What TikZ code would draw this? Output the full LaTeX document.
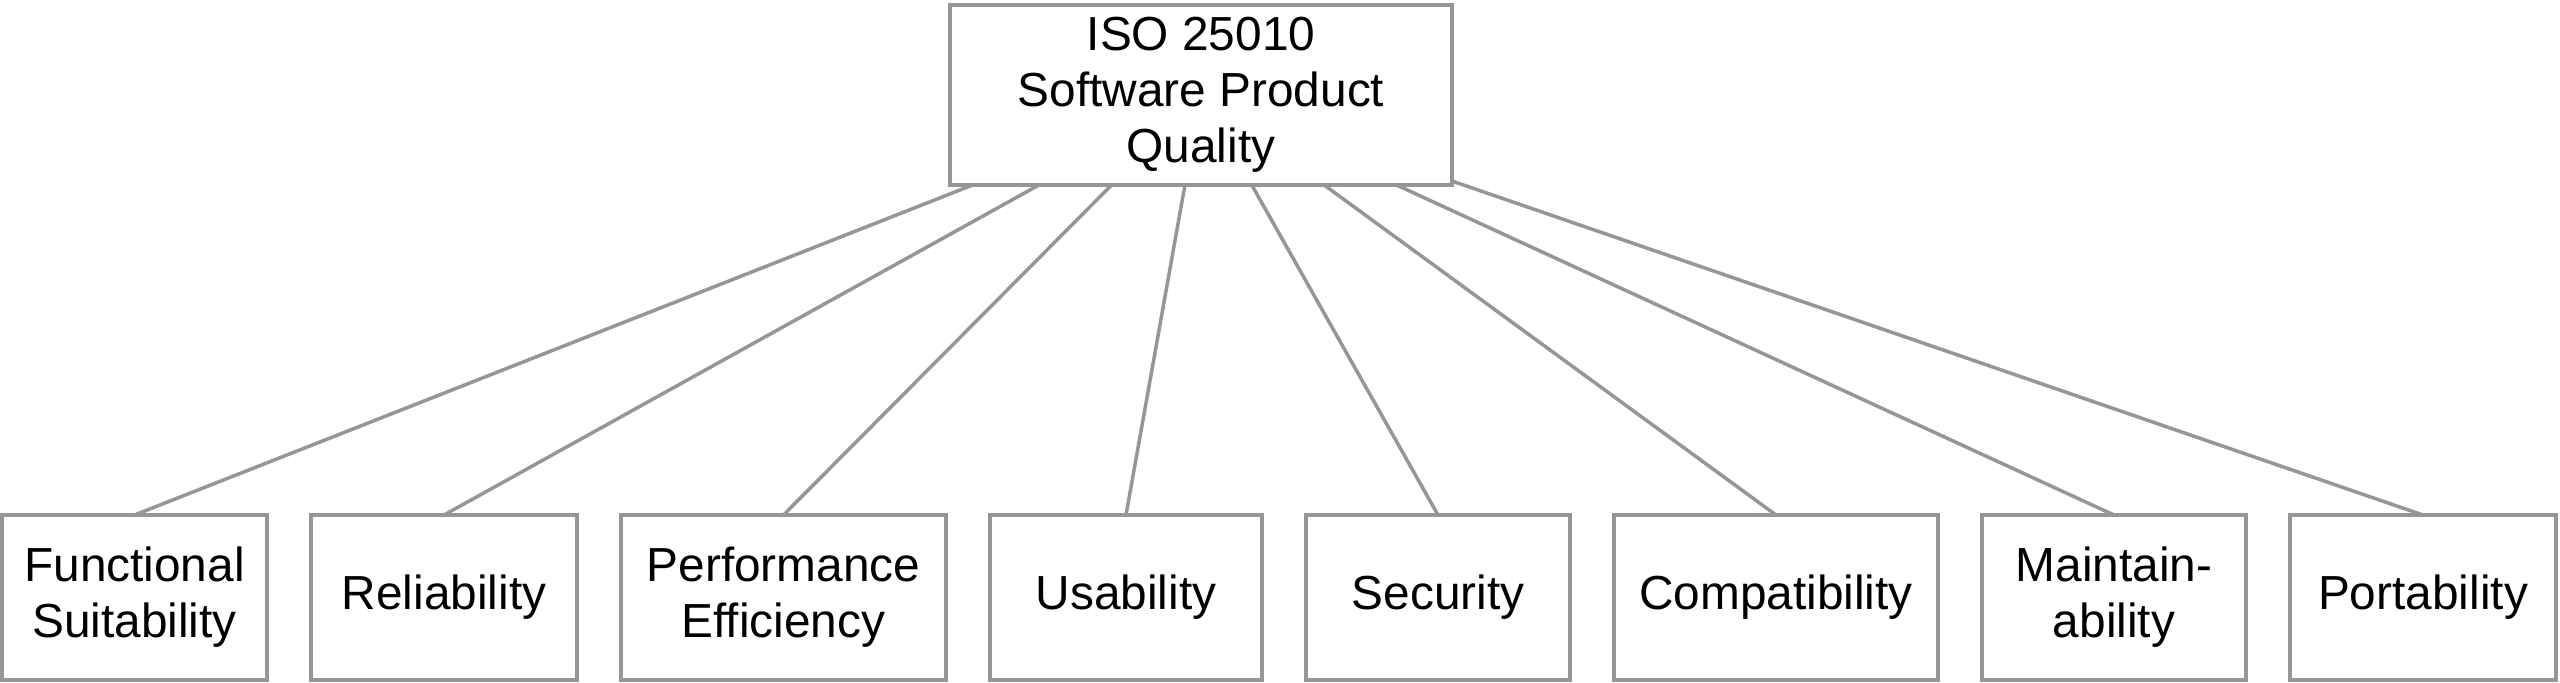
\documentclass[tikz,border=0pt]{standalone}
\usepackage{fontspec}
\setmainfont{Liberation Sans}
\usepackage{tikz}
\usetikzlibrary{positioning}
\definecolor{boxgray}{RGB}{150,150,150}
\tikzset{every node/.style={font=\fontsize{27.2}{31.8}\selectfont},
quality/.style={draw=boxgray, line width=2pt, align=center, outer sep=0pt,
  minimum height=3.3cm, inner sep=0pt},
link/.style={draw=boxgray, line width=2pt}
}

\begin{document}
\begin{tikzpicture}[node distance=0.88cm]
      \useasboundingbox (0,0) rectangle (51.2,-13.64);
      \node[quality, minimum width=10.04cm, minimum height=3.6cm] (iso) at (24.02,-1.9)
            {ISO 25010\\Software Product\\Quality};
      \node[quality, minimum width=5.3cm]  (fs) at (2.69,-11.95) {Functional\\Suitability};
      \node[quality, minimum width=5.32cm] (rel)   [right=of fs]    {Reliability};
      \node[quality, minimum width=6.5cm]  (perf)  [right=of rel]   {Performance\\Efficiency};
      \node[quality, minimum width=5.44cm] (usab)  [right=of perf]  {Usability};
      \node[quality, minimum width=5.28cm] (sec)   [right=of usab]  {Security};
      \node[quality, minimum width=6.48cm] (comp)  [right=of sec]   {Compatibility};
      \node[quality, minimum width=5.28cm] (maint) [right=of comp]  {Maintain-\\ability};
      \node[quality, minimum width=5.32cm] (port)  [right=of maint] {Portability};

      \path[link] (iso) -- (fs.north)
                  (iso) -- (rel.north)
                  (iso) -- (perf.north)
                  (iso) -- (usab.north)
                  (iso) -- (sec.north)
                  (iso) -- (comp.north)
                  (iso) -- (maint.north)
                  (iso) -- (port.north);
    \end{tikzpicture}
\end{document}
